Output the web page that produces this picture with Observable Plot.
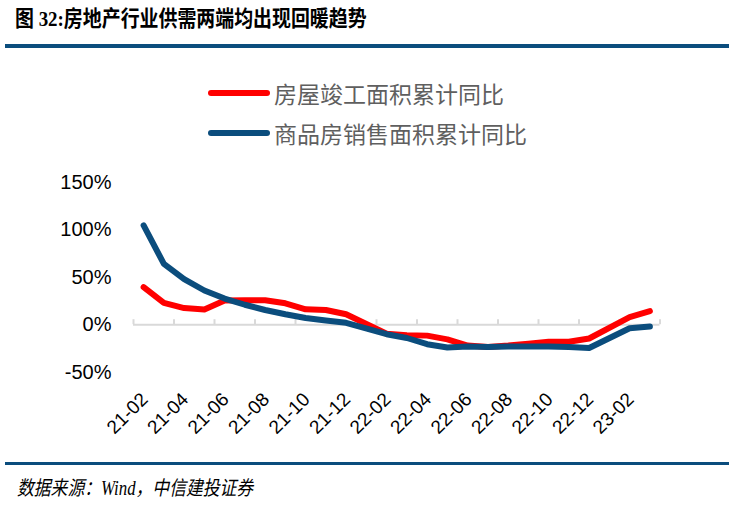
<!DOCTYPE html>
<html><head><meta charset="utf-8">
<script src="https://cdn.jsdelivr.net/npm/d3@7"></script>
<script src="https://cdn.jsdelivr.net/npm/@observablehq/plot@0.6"></script>
<style>
body{margin:0;background:#fff;}
#wrap{position:relative;width:729px;height:513px;overflow:hidden;background:#fff;}
#title{position:absolute;left:15px;top:5px;font-family:"Liberation Serif","Noto Sans CJK SC",serif;font-weight:bold;font-size:22px;line-height:28px;white-space:nowrap;color:#000;transform:scaleX(0.86);transform-origin:left center;}
.rule{position:absolute;left:5px;width:724px;background:#0b4d7d;}
#chart{position:absolute;left:0;top:60px;}
.legrow{position:absolute;left:208px;height:24px;display:flex;align-items:center;white-space:nowrap;}
.legrow svg{display:block;margin-right:4px;}
.legrow span{font-family:"Noto Sans CJK SC",sans-serif;font-size:23px;line-height:24px;color:#5f5f5f;}
#caption{position:absolute;left:17px;top:475px;font-family:"Liberation Serif","Noto Sans CJK SC",serif;font-style:italic;font-size:20px;line-height:26px;white-space:nowrap;color:#000;transform:scaleX(0.84);transform-origin:left center;}
</style></head>
<body>
<div id="wrap">
  <div id="title">图 32:房地产行业供需两端均出现回暖趋势</div>
  <div class="rule" style="top:44px;height:4px;"></div>
  <div id="chart"></div>
  <div id="legend"></div>
  <div class="rule" style="top:462px;height:3px;"></div>
  <div id="caption">数据来源：Wind，中信建投证券</div>
</div>
<script>
const months = ["21-02","21-03","21-04","21-05","21-06","21-07","21-08","21-09","21-10","21-11","21-12","22-01",
  "22-02","22-03","22-04","22-05","22-06","22-07","22-08","22-09","22-10","22-11","22-12","23-01","23-02","23-03"];
// 房屋竣工面积累计同比 (%), January has no separate release
const completion = [39.5, 23, 17.5, 16, 25.5, 25.7, 25.8, 22.5, 16.2, 15.5, 11, null,
  -9.5, -11, -11.5, -15.5, -22, -23.5, -22, -20, -18, -18, -14.5, null, 8, 14.3];
// 商品房销售面积累计同比 (%)
const sales = [104.5, 64, 48, 36, 27.5, 21, 15.5, 11, 7, 4.5, 2, null,
  -10, -14, -20.5, -24, -23, -23.5, -23, -23, -23, -23.5, -24.5, null, -3.7, -2];
const yTicks = [-50, 0, 50, 100, 150];
const seriesNames = ["房屋竣工面积累计同比", "商品房销售面积累计同比"];
const colors = ["#ff0000", "#0b4d7d"];

const rows = months.map((m, i) => ({i, m, c: completion[i], s: sales[i]}));
const labelIdx = d3.range(0, months.length, 2);
const boundaries = d3.range(-0.5, months.length, 2);

const chart = Plot.plot({
  width: 729, height: 395,
  marginLeft: 133, marginRight: 69.5, marginTop: 121.7, marginBottom: 83.3,
  style: {fontFamily: '"Liberation Sans", Arial, sans-serif', color: "#000", background: "transparent", overflow: "visible"},
  x: {type: "linear", domain: [-0.5, months.length - 0.5]},
  y: {domain: [-50, 150]},
  marks: [
    Plot.ruleY([0], {stroke: "#d9d9d9", strokeWidth: 2}),
    Plot.ruleX(boundaries, {x: d => d, y1: 0, y2: 0, insetTop: -5, stroke: "#d9d9d9", strokeWidth: 2}),
    Plot.axisY({ticks: yTicks, tickFormat: d => d + "%", tickSize: 0, tickPadding: 22, fontSize: 20, fill: "#000"}),
    Plot.axisX({ticks: labelIdx, tickFormat: i => months[i], tickRotate: -45, tickSize: 0, tickPadding: 24, dx: 1, fontSize: 19, fill: "#000", label: null}),
    Plot.line(rows.filter(d => d.c != null), {x: "i", y: "c", stroke: colors[0], strokeWidth: 6, strokeLinejoin: "round", strokeLinecap: "round"}),
    Plot.line(rows.filter(d => d.s != null), {x: "i", y: "s", stroke: colors[1], strokeWidth: 6, strokeLinejoin: "round", strokeLinecap: "round"})
  ]
});
document.getElementById("chart").appendChild(chart);

const legend = document.getElementById("legend");
seriesNames.forEach((name, k) => {
  const row = document.createElement("div");
  row.className = "legrow";
  row.style.top = (81 + k * 40) + "px";
  row.innerHTML = `<svg width="62" height="10"><line x1="3" y1="5" x2="59" y2="5" stroke="${colors[k]}" stroke-width="6" stroke-linecap="round"/></svg><span>${name}</span>`;
  legend.appendChild(row);
});
</script>
</body></html>
